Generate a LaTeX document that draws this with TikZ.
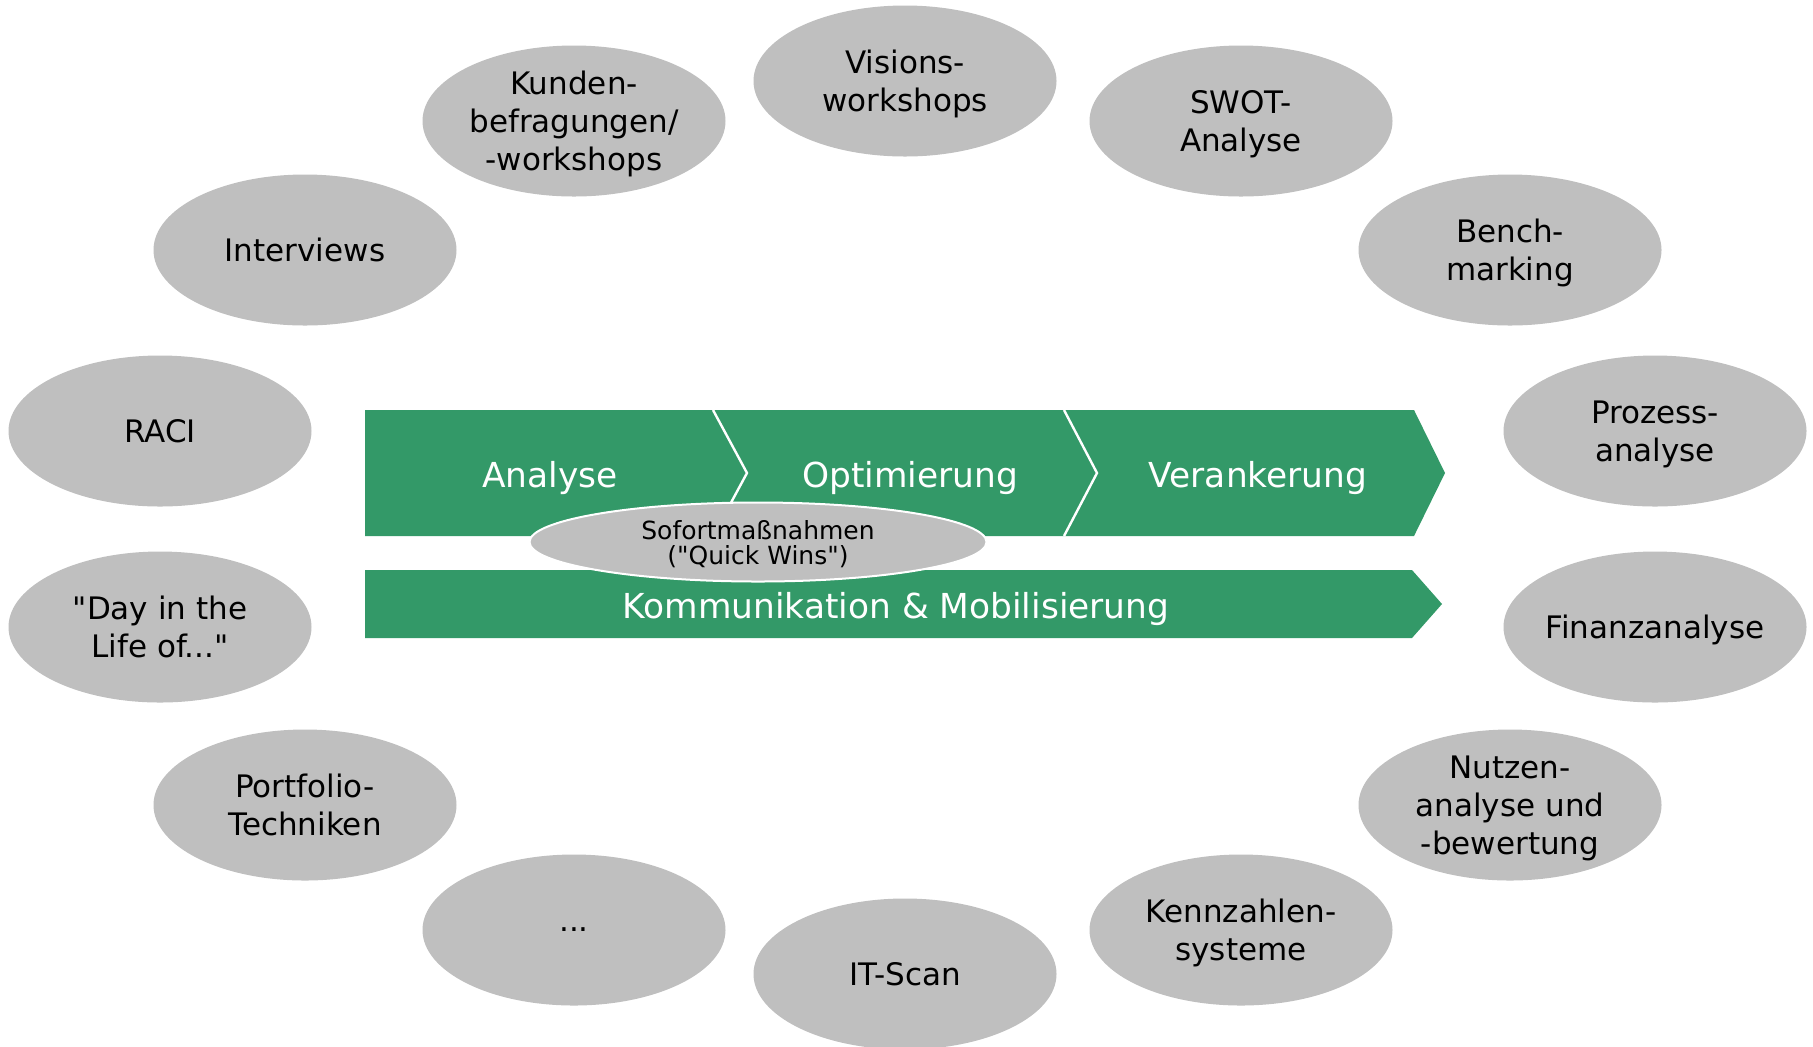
\documentclass[tikz,border=0pt]{standalone}
\usepackage{fontspec}
\setmainfont{DejaVu Sans}
\usetikzlibrary{shapes.geometric}

\definecolor{phaseGreen}{RGB}{51,153,104}
\definecolor{toolGray}{RGB}{191,191,191}

\tikzset{
    tool/.style={ellipse, fill=toolGray, minimum width=151.5pt, minimum height=75.5pt,
        inner xsep=-5pt, inner ysep=-12pt, align=center, text depth=0pt,
        font=\fontsize{15.5}{19}\selectfont},
    phase/.style={text=white, text depth=0pt, font=\fontsize{17.2}{20}\selectfont},
    quickwin/.style={ellipse, fill=toolGray, draw=white, line width=1pt,
        minimum width=228.5pt, minimum height=39.5pt, inner sep=-8pt, align=center,
        text depth=0pt, font=\fontsize{12.5}{12.5}\selectfont}
}

\begin{document}
\begin{tikzpicture}[x=0.5pt, y=-0.5pt]
    % Picture frame (pixel coordinates)
    \clip (0,0) rectangle (1813,1046);

    % Phase chevron with separators
    \fill[phaseGreen] (365,410) -- (1414,410) -- (1445,473) -- (1414,536) -- (365,536) -- cycle;
    \foreach \sx/\tx in {713/747, 1064/1097} {
        \draw[white, line width=1.2pt] (\sx,410) -- (\tx,473) -- (\sx,536);
    }
    \node[phase] (analyse) at (550,474) {Analyse};
    \node[phase] (optimierung) at (910,474) {Optimierung};
    \node[phase] (verankerung) at (1258,474) {Verankerung};

    % Communication bar
    \fill[phaseGreen] (365,570) -- (1412,570) -- (1442,604) -- (1412,638) -- (365,638) -- cycle;
    \node[phase] (kommunikation) at (896,605) {Kommunikation \& Mobilisierung};

    % Quick wins between the bars
    \node[quickwin] (quickwins) at (758,542) {Sofortmaßnahmen\\(\textquotedbl Quick Wins\textquotedbl)};

    % Methods around the phases
    \foreach \nm/\px/\py/\txt in {
        visions/905/81/{Visions-\\workshops},
        kunden/574/121/{Kunden-\\befragungen/\\-workshops},
        swot/1241/121/{SWOT-\\Analyse},
        interviews/305/250/{Interviews},
        bench/1510/250/{Bench-\\marking},
        raci/160/431/{RACI},
        prozess/1655/431/{Prozess-\\analyse},
        dayinlife/160/627/{\textquotedbl Day in the\\Life of...\textquotedbl},
        finanz/1655/627/{Finanzanalyse},
        portfolio/305/805/{Portfolio-\\Techniken},
        nutzen/1510/805/{Nutzen-\\analyse und\\-bewertung},
        more/574/930/{...},
        kennzahlen/1241/930/{Kennzahlen-\\systeme},
        itscan/905/974/{IT-Scan}} {
        \node[tool] (\nm) at (\px,\py) {\txt};
    }
\end{tikzpicture}
\end{document}
